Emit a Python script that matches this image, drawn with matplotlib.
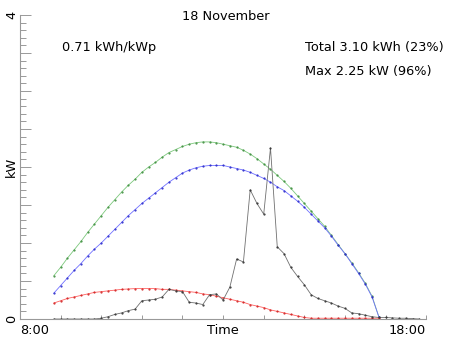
import numpy as np
import matplotlib
matplotlib.use("Agg")
import matplotlib.pyplot as plt

# 10-minute samples, hours of the day
step = 10 / 60.0
model_start = 8 + 50 / 60.0   # 8:50
meas_start = 8 + 50 / 60.0    # 8:50

# clear sky, horizontal (green)
clear_sky = [0.57, 0.68, 0.80, 0.91, 1.02, 1.14, 1.25, 1.36, 1.47, 1.57,
             1.67, 1.76, 1.84, 1.93, 2.00, 2.06, 2.13, 2.19, 2.23, 2.27,
             2.30, 2.32, 2.33, 2.33, 2.32, 2.30, 2.28, 2.26, 2.22, 2.17,
             2.11, 2.04, 1.97, 1.89, 1.81, 1.72, 1.62, 1.52, 1.42, 1.32,
             1.22, 1.10, 0.98, 0.86, 0.74, 0.61, 0.47, 0.30, 0.03]
# expected (blue)
expected = [0.34, 0.44, 0.54, 0.64, 0.73, 0.83, 0.92, 1.00, 1.09, 1.18,
            1.27, 1.36, 1.44, 1.52, 1.59, 1.66, 1.73, 1.80, 1.86, 1.92,
            1.96, 1.99, 2.01, 2.02, 2.02, 2.02, 2.00, 1.98, 1.96, 1.93,
            1.89, 1.85, 1.80, 1.74, 1.69, 1.62, 1.55, 1.47, 1.38, 1.29,
            1.20, 1.09, 0.97, 0.86, 0.73, 0.60, 0.46, 0.29, 0.03]
# diffuse (red)
diffuse = [0.21, 0.24, 0.27, 0.29, 0.31, 0.33, 0.35, 0.36, 0.37, 0.38,
           0.39, 0.395, 0.40, 0.40, 0.40, 0.40, 0.39, 0.39, 0.38, 0.37,
           0.36, 0.35, 0.33, 0.32, 0.30, 0.28, 0.26, 0.24, 0.22, 0.19,
           0.17, 0.15, 0.12, 0.10, 0.08, 0.06, 0.04, 0.02, 0.01, 0.01,
           0.01, 0.01, 0.01, 0.01, 0.01, 0.01, 0.01, 0.01, 0.01]
# measured (black)
measured = [0, 0, 0, 0, 0, 0, 0, 0.01, 0.03, 0.06,
            0.08, 0.11, 0.13, 0.24, 0.25, 0.26, 0.29, 0.39, 0.37, 0.36,
            0.22, 0.21, 0.19, 0.32, 0.33, 0.25, 0.42, 0.79, 0.75, 1.70,
            1.52, 1.38, 2.25, 0.95, 0.86, 0.68, 0.56, 0.45, 0.32, 0.27,
            0.24, 0.21, 0.17, 0.14, 0.08, 0.07, 0.05, 0.03, 0.02, 0.02,
            0.015, 0.01, 0.01, 0.005, 0.0]

title = "18 November"
yield_txt = "0.71 kWh/kWp"
total_txt = "Total 3.10 kWh (23%)"
max_txt = "Max 2.25 kW (96%)"

t_model = model_start + step * np.arange(len(clear_sky))
t_meas = meas_start + step * np.arange(len(measured))

W, H = 452, 339
fig = plt.figure(figsize=(W / 100, H / 100), dpi=100)
ax = fig.add_axes([20 / W, 1 - 319 / H, (426.2 - 20) / W, (319 - 15) / H])

lw = 0.6
ms = 1.1
ax.plot(t_model, clear_sky, color="#7cc87c", lw=lw, marker=".", ms=ms, mfc="#3c8c3c", mec="#3c8c3c")
ax.plot(t_model, expected, color="#7070ff", lw=lw, marker=".", ms=ms, mfc="#2828c8", mec="#2828c8")
ax.plot(t_model, diffuse, color="#ff6060", lw=lw, marker=".", ms=ms, mfc="#d02020", mec="#d02020")
ax.plot(t_meas, measured, color="#707070", lw=lw, marker=".", ms=ms, mfc="#303030", mec="#303030")

ax.set_xlim(8, 18)
ax.set_ylim(0, 4)

for s in ("top", "right"):
    ax.spines[s].set_visible(False)
for s in ("left", "bottom"):
    ax.spines[s].set_color("#999999")
    ax.spines[s].set_linewidth(0.8)

ax.set_xticks(np.arange(8, 19, 1))
ax.set_xticklabels([])
ax.tick_params(axis="x", direction="in", length=3, color="#999999", width=0.7)

ax.set_yticks(np.arange(0, 4.01, 0.5))
ax.set_yticks(np.arange(0, 4.01, 0.1), minor=True)
ax.set_yticklabels(["0", "", "", "", "", "", "", "", "4"], rotation=90, va="center", fontsize=9.3)
ax.tick_params(axis="y", which="major", direction="in", length=8, color="#999999", width=0.7, pad=1)
ax.tick_params(axis="y", which="minor", direction="in", length=4, color="#999999", width=0.7)
ax.set_ylabel("kW", fontsize=9.3)
ax.yaxis.set_label_coords(-2.5 / 406, 0.5)

ax.text(8, -0.06, "8:00", ha="left", va="top", fontsize=9.3)
ax.text(18, -0.06, "18:00", ha="right", va="top", fontsize=9.3)
ax.text(13, -0.06, "Time", ha="center", va="top", fontsize=9.3)

fig.text(226 / W, 1 - 17 / H, title, ha="center", va="center", fontsize=9.3)
fig.text(62 / W, 1 - 47 / H, yield_txt, ha="left", va="center", fontsize=9.3)
fig.text(305 / W, 1 - 47 / H, total_txt, ha="left", va="center", fontsize=9.3)
fig.text(305 / W, 1 - 71 / H, max_txt, ha="left", va="center", fontsize=9.3)

fig.savefig("out.png", dpi=100)
